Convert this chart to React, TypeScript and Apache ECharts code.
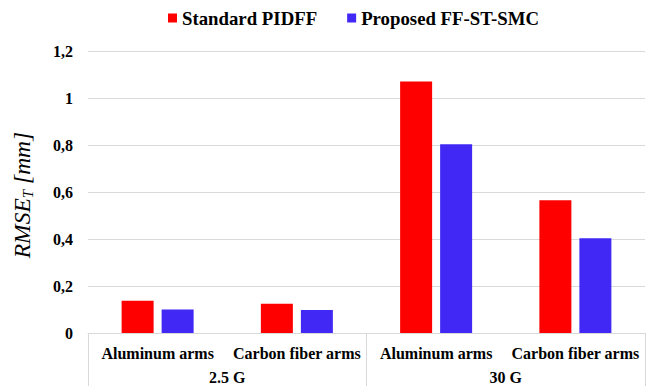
import React, { useEffect, useRef } from 'react';
import * as echarts from 'echarts';

const categories = ['Aluminum arms', 'Carbon fiber arms', 'Aluminum arms', 'Carbon fiber arms'];
const groups = ['2.5 G', '30 G'];
const seriesNames = ['Standard PIDFF', 'Proposed FF-ST-SMC'];
const pidffValues = [0.138, 0.125, 1.072, 0.566];
const smcValues = [0.1, 0.098, 0.805, 0.404];
const yMin = 0;
const yMax = 1.2;
const yStep = 0.2;

const SERIF = 'Liberation Serif';
const GRID_COLOR = '#d9d9d9';

export default function App() {
  const ref = useRef<HTMLDivElement>(null);

  useEffect(() => {
    if (!ref.current) return;
    const chart = echarts.init(ref.current, null, { renderer: 'svg' });
    const fmt = (v: number) => String(Math.round(v * 10) / 10).replace('.', ',');
    chart.setOption({
      animation: false,
      backgroundColor: '#ffffff',
      textStyle: { fontFamily: SERIF },
      legend: {
        data: seriesNames,
        left: 168,
        top: 8.5,
        padding: 0,
        itemWidth: 9,
        itemHeight: 9,
        itemGap: 30,
        icon: 'rect',
        textStyle: { fontFamily: SERIF, fontWeight: 'bold', fontSize: 18.8, color: '#000' },
      },
      grid: { left: 88, right: 5, top: 51.5, bottom: 53 },
      xAxis: [
        {
          type: 'category',
          data: categories,
          position: 'bottom',
          axisLine: { show: true, lineStyle: { color: GRID_COLOR, width: 1 } },
          axisTick: { show: false },
          axisLabel: {
            interval: 0,
            margin: 12,
            fontFamily: SERIF,
            fontWeight: 'bold',
            fontSize: 16,
            color: '#000',
          },
        },
        {
          type: 'category',
          data: groups,
          position: 'bottom',
          offset: 0,
          axisLine: { show: false },
          axisTick: { show: true, length: 53, lineStyle: { color: GRID_COLOR, width: 1 } },
          axisLabel: {
            interval: 0,
            margin: 36.5,
            fontFamily: SERIF,
            fontWeight: 'bold',
            fontSize: 16,
            color: '#000',
          },
        },
      ],
      yAxis: {
        type: 'value',
        min: yMin,
        max: yMax,
        interval: yStep,
        axisLine: { show: false },
        axisTick: { show: false },
        splitLine: { show: true, lineStyle: { color: GRID_COLOR, width: 1 } },
        axisLabel: {
          margin: 15,
          formatter: fmt,
          fontFamily: SERIF,
          fontWeight: 'bold',
          fontSize: 16,
          color: '#000',
        },
      },
      graphic: [
        {
          type: 'text',
          x: 22,
          y: 195,
          rotation: Math.PI / 2,
          style: {
            text: '{a|RMSE}{b|T}{a| [mm]}',
            align: 'center',
            verticalAlign: 'middle',
            rich: {
              a: { fontFamily: SERIF, fontStyle: 'italic', fontSize: 23.5, fill: '#000' },
              b: { fontFamily: SERIF, fontStyle: 'italic', fontSize: 15, fill: '#000', padding: [11, 0, 0, 0] },
            },
          },
        },
      ],
      series: [
        {
          name: seriesNames[0],
          type: 'bar',
          data: pidffValues,
          barWidth: 32,
          barGap: '25%',
          itemStyle: { color: '#ff0000' },
        },
        {
          name: seriesNames[1],
          type: 'bar',
          data: smcValues,
          barWidth: 32,
          barGap: '25%',
          itemStyle: { color: '#4128f4' },
        },
      ],
    });
    return () => chart.dispose();
  }, []);

  return (
    <div
      ref={ref}
      style={{ position: 'fixed', left: 0, top: 0, width: 650, height: 386, background: '#fff' }}
    />
  );
}
